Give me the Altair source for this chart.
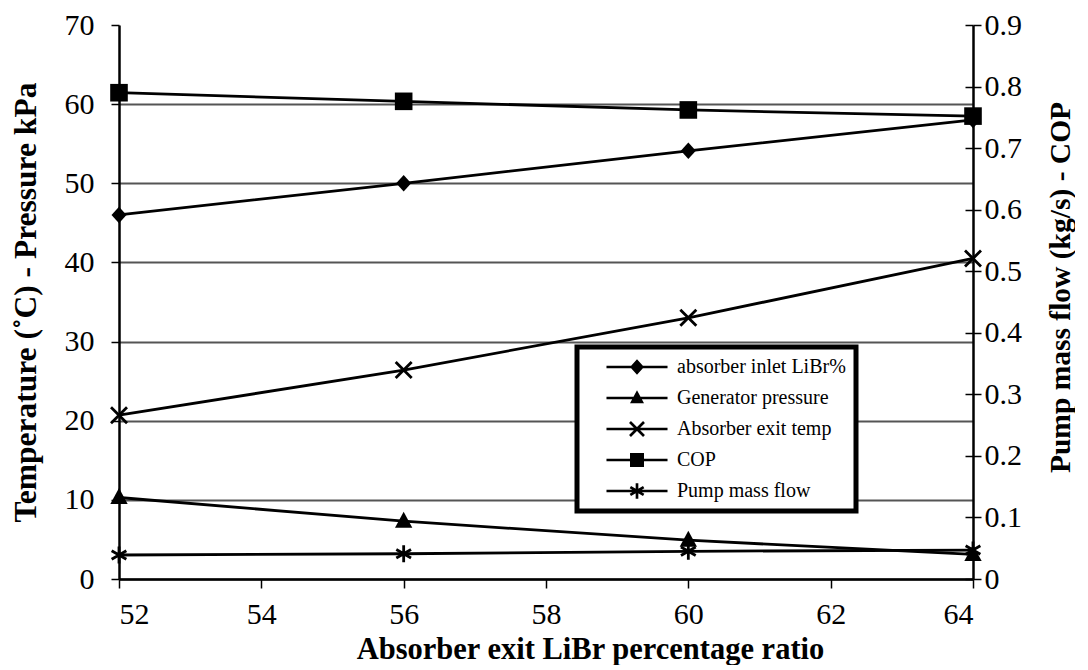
import math
import altair as alt
import pandas as pd

# ---- data ----
ratio = [52, 56, 60, 64]
absorber_inlet_libr = [46.0, 50.0, 54.1, 58.0]
generator_pressure = [10.3, 7.3, 4.9, 3.1]
absorber_exit_temp = [20.7, 26.4, 33.0, 40.5]
cop = [0.790, 0.776, 0.762, 0.752]
pump_mass_flow = [0.039, 0.041, 0.045, 0.047]

series_names = ["absorber inlet LiBr%", "Generator pressure", "Absorber exit temp",
                "COP", "Pump mass flow"]
x_ticks = [52, 54, 56, 58, 60, 62, 64]
left_ticks = [0, 10, 20, 30, 40, 50, 60, 70]
right_ticks = [0, 0.1, 0.2, 0.3, 0.4, 0.5, 0.6, 0.7, 0.8, 0.9]

FONT = "Liberation Serif"
LABEL_FONT = "Times New Roman, Liberation Serif, serif"

# ---- marker shapes (unit paths) ----
DIAMOND = "M0,-1.1L1,0L0,1.1L-1,0Z"
TRIANGLE = "M0,-1.1L1,0.75L-1,0.75Z"
XCROSS = "M-1,-1L1,1M-1,1L1,-1"
SQUARE = "M-1,-1L1,-1L1,1L-1,1Z"
ASTER = "M0,-1.1L0,1.1M-0.95,-0.55L0.95,0.55M-0.95,0.55L0.95,-0.55"


def bar(x1, y1, x2, y2, w):
    """thin filled rectangle along a segment (same winding for all)"""
    dx, dy = x2 - x1, y2 - y1
    L = math.hypot(dx, dy)
    nx, ny = -dy / L * w, dx / L * w
    pts = [(x1 - nx, y1 - ny), (x2 - nx, y2 - ny), (x2 + nx, y2 + ny), (x1 + nx, y1 + ny)]
    return "M" + "L".join(f"{px:.3f},{py:.3f}" for px, py in pts) + "Z"


W = 0.19
LEG_LINE = bar(-4.36, 0, 4.36, 0, W)
LEG_X = bar(-1, -1, 1, 1, W) + bar(-1, 1, 1, -1, W)
LEG_AST = (bar(0, -1.1, 0, 1.1, W) + bar(-0.95, -0.55, 0.95, 0.55, W)
           + bar(-0.95, 0.55, 0.95, -0.55, W))
legend_shapes = [LEG_LINE + DIAMOND, LEG_LINE + TRIANGLE, LEG_LINE + LEG_X,
                 LEG_LINE + SQUARE, LEG_LINE + LEG_AST]

left_df = pd.DataFrame({
    "ratio": ratio * 3,
    "value": absorber_inlet_libr + generator_pressure + absorber_exit_temp,
    "series": [series_names[0]] * 4 + [series_names[1]] * 4 + [series_names[2]] * 4,
})
right_df = pd.DataFrame({
    "ratio": ratio * 2,
    "value": cop + pump_mass_flow,
    "series": [series_names[3]] * 4 + [series_names[4]] * 4,
})

common_axis = dict(labelFont=LABEL_FONT, titleFont=FONT, labelColor="black", titleColor="black",
                   domainColor="black", tickColor="black", domainWidth=2.5, tickWidth=1.5,
                   titleFontWeight="bold", labelFontWeight="normal")

xenc = alt.X("ratio:Q",
             scale=alt.Scale(domain=[52, 64], nice=False, zero=False),
             axis=alt.Axis(values=x_ticks, title="Absorber exit LiBr percentage ratio",
                           grid=False, tickSize=9, labelPadding=11, titlePadding=5,
                           titleX=471, titleAlign="center",
                           labelFontSize=30, titleFontSize=30.5, **common_axis))

yleft = alt.Y("value:Q",
              scale=alt.Scale(domain=[0, 70], nice=False),
              axis=alt.Axis(values=left_ticks, title="Temperature (˚C) - Pressure kPa",
                            grid=True, gridColor="#555555", gridWidth=2,
                            gridOpacity={"expr": "datum.value >= 70 ? 0 : 1"},
                            tickSize=8, labelPadding=17, titlePadding=22,
                            labelFontSize=30, titleFontSize=31.5, **common_axis))

yright = alt.Y("value:Q",
               scale=alt.Scale(domain=[0, 0.9], nice=False),
               axis=alt.Axis(values=right_ticks, orient="right",
                             title="Pump mass flow (kg/s) - COP",
                             grid=False, tickSize=8, labelPadding=3, titlePadding=54,
                             titleAngle=270, titleY=262, titleAlign="center",
                             labelFontSize=30, titleFontSize=29.5,
                             format="~g", **common_axis))

# inner half of the crossing ticks on the right axis
yright_inner = alt.Y("value:Q",
                     scale=alt.Scale(domain=[0, 0.9], nice=False),
                     axis=alt.Axis(values=right_ticks, orient="right", title=None,
                                   labels=False, domain=False, grid=False, tickSize=8,
                                   offset=-8, tickColor="black", tickWidth=1.5,
                                   labelFont=LABEL_FONT))

line_style = dict(color="black", strokeWidth=2.8)


def series_layers(df, name, shape, filled, size, yenc):
    d = df[df["series"] == name]
    base = alt.Chart(d).encode(x=xenc, y=yenc)
    ln = base.mark_line(**line_style)
    if filled:
        pt = base.mark_point(shape=shape, filled=True, color="black", size=size, opacity=1)
    else:
        pt = base.mark_point(shape=shape, filled=False, color="black", size=size,
                             strokeWidth=2.8, opacity=1)
    return [ln, pt]


left_layers = []
left_layers += series_layers(left_df, series_names[0], DIAMOND, True, 225, yleft)
left_layers += series_layers(left_df, series_names[1], TRIANGLE, True, 300, yleft)
left_layers += series_layers(left_df, series_names[2], XCROSS, False, 256, yleft)

# legend-only layer (invisible marks, drives the legend through the shape scale)
legend_layer = alt.Chart(left_df.iloc[[0, 4, 8]]).mark_point(
    opacity=0, filled=True, color="black"
).encode(
    x=xenc, y=yleft,
    shape=alt.Shape("series:N",
                    scale=alt.Scale(domain=series_names, range=legend_shapes),
                    legend=alt.Legend(
                        title=None, orient="none", legendX=458, legendY=322,
                        symbolSize=196, symbolFillColor="black",
                        symbolStrokeWidth=0, symbolOpacity=1, symbolOffset=40,
                        labelOffset=30, labelFontSize=20, labelFont=FONT, labelColor="black",
                        padding=10, strokeColor="black",
                        fillColor="white", labelLimit=400)),
)

right_layers = []
right_layers += series_layers(right_df, series_names[3], SQUARE, True, 310, yright)
right_layers += series_layers(right_df, series_names[4], ASTER, False, 240, yright)

tick_layer = alt.Chart(right_df.iloc[[0]]).mark_point(opacity=0).encode(x=xenc, y=yright_inner)

left = alt.layer(*left_layers, legend_layer)
right = alt.layer(*right_layers)

chart = alt.layer(left, right, tick_layer).resolve_scale(y="independent").properties(
    width=854, height=554, padding={"left": 2, "top": 2, "right": 0, "bottom": 0},
    background="white"
).configure(font=FONT).configure_view(stroke=None).configure_axis(
    labelFont=LABEL_FONT, titleFont=FONT
).configure_legend(strokeWidth=5, rowPadding=11)

chart.save("out.html", embed_options={"renderer": "svg", "actions": False})
